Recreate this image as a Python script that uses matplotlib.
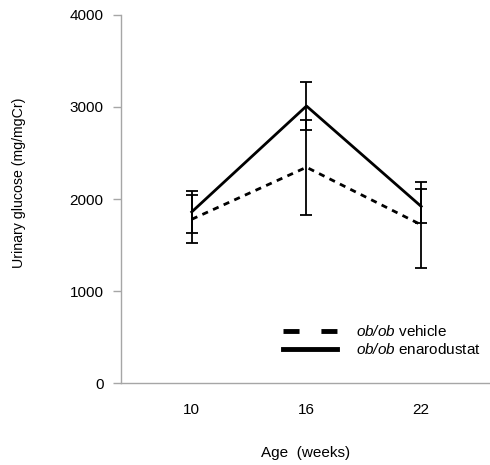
import matplotlib
matplotlib.use("Agg")
import matplotlib.pyplot as plt
from matplotlib.lines import Line2D

plt.rcParams['font.family'] = ['Liberation Sans', 'DejaVu Sans']
plt.rcParams['mathtext.fontset'] = 'custom'
plt.rcParams['mathtext.rm'] = 'Liberation Sans:italic'
plt.rcParams['mathtext.it'] = 'Liberation Sans:italic'

# data
weeks = [10, 16, 22]
vehicle_mean = [1780, 2345, 1720]
vehicle_err = [260, 515, 465]
enaro_mean = [1860, 3010, 1920]
enaro_err = [230, 262, 185]
yticks = [0, 1000, 2000, 3000, 4000]
labels = [r"$\it{ob/ob}$ vehicle", r"$\it{ob/ob}$ enarodustat"]

fig = plt.figure(figsize=(4.9, 4.65), dpi=100)
ax = fig.add_axes([0.247, 0.176, 0.753, 0.792])

gray = '#a6a6a6'
fs = 11

# vehicle (dashed)
ax.errorbar(weeks, vehicle_mean, yerr=vehicle_err, color='black', lw=2.0,
            ls=(0, (2.2, 2.0)), elinewidth=1.3, capsize=4, capthick=1.3)
# enarodustat (solid)
ax.errorbar(weeks, enaro_mean, yerr=enaro_err, color='black', lw=2.0,
            ls='-', elinewidth=1.3, capsize=4, capthick=1.3)

ax.set_xlim(6.3, 25.6)
ax.set_ylim(0, 4000)
ax.set_xticks(weeks)
ax.set_yticks(yticks)

for side in ['top', 'right']:
    ax.spines[side].set_visible(False)
ax.spines['left'].set_color(gray)
ax.spines['bottom'].set_color(gray)
ax.spines['left'].set_linewidth(1.0)
ax.spines['bottom'].set_linewidth(1.0)

ax.tick_params(axis='y', colors=gray, labelcolor='black', length=5.5, width=1.0,
               pad=7, labelsize=fs)
ax.tick_params(axis='x', length=0, pad=14, labelsize=fs)

ax.set_ylabel('Urinary glucose (mg/mgCr)', fontsize=10.2)
ax.yaxis.set_label_coords(-0.258, 0.545)
ax.set_xlabel('Age  (weeks)', fontsize=fs, labelpad=21)

handles = [
    Line2D([], [], color='black', lw=3.5, ls=(0, (3.3, 4.5))),
    Line2D([], [], color='black', lw=3.5, ls='-'),
]
ax.legend(handles, labels, loc='upper left', bbox_to_anchor=(0.439, 0.16),
          frameon=False, fontsize=fs, handlelength=3.55, handletextpad=1.2,
          labelspacing=0.2, borderpad=0, borderaxespad=0)

fig.savefig('out.png', dpi=100)
